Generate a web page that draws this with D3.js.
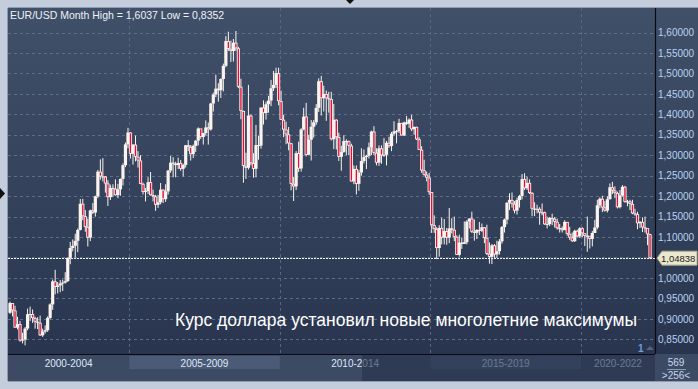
<!DOCTYPE html>
<html>
<head>
<meta charset="utf-8">
<script src="https://cdn.jsdelivr.net/npm/d3@7"></script>
<style>
  html, body { margin: 0; padding: 0; background: #c3cddb; }
  svg { display: block; font-family: "Liberation Sans", Arial, sans-serif; }
</style>
</head>
<body>
<svg id="chart" width="698" height="389"></svg>
<script>
// EUR/USD monthly, Jan 2001 .. Apr 2022 (256 bars). open = previous close
var firstOpen = 0.9150;
var closes = [
  0.9386,0.9206,0.8787,0.8872,0.8471,0.8493,0.8763,0.9114,0.9118,0.9018,0.8931,0.8904,
  0.8597,0.8688,0.8722,0.9024,0.9353,0.9915,0.9780,0.9815,0.9865,0.9887,0.9922,1.0492,
  1.0733,1.0786,1.0907,1.1174,1.1812,1.1509,1.1245,1.0986,1.1652,1.1598,1.1996,1.2597,
  1.2482,1.2477,1.2309,1.1975,1.2201,1.2181,1.2024,1.2165,1.2420,1.2757,1.3266,1.3554,
  1.3035,1.3259,1.2962,1.2870,1.2300,1.2103,1.2124,1.2340,1.2025,1.1995,1.1790,1.1849,
  1.2157,1.1926,1.2116,1.2626,1.2818,1.2792,1.2759,1.2810,1.2669,1.2764,1.3244,1.3199,
  1.3027,1.3228,1.3356,1.3654,1.3445,1.3541,1.3680,1.3631,1.4264,1.4484,1.4627,1.4589,
  1.4863,1.5186,1.5790,1.5601,1.5547,1.5750,1.5613,1.4674,1.4082,1.2741,1.2693,1.3969,
  1.2806,1.2668,1.3248,1.3235,1.4164,1.4031,1.4247,1.4336,1.4637,1.4720,1.5004,1.4321,
  1.3867,1.3627,1.3510,1.3291,1.2301,1.2237,1.3049,1.2676,1.3630,1.3944,1.3008,1.3379,
  1.3695,1.3805,1.4158,1.4808,1.4394,1.4497,1.4393,1.4375,1.3391,1.3867,1.3444,1.2961,
  1.3081,1.3346,1.3339,1.3234,1.2360,1.2665,1.2301,1.2577,1.2859,1.2956,1.2988,1.3193,
  1.3578,1.3060,1.2818,1.3168,1.2997,1.3010,1.3303,1.3223,1.3526,1.3584,1.3589,1.3789,
  1.3484,1.3802,1.3768,1.3870,1.3635,1.3692,1.3389,1.3132,1.2629,1.2525,1.2453,1.2098,
  1.1291,1.1196,1.0731,1.1222,1.0986,1.1146,1.0985,1.1211,1.1177,1.1005,1.0565,1.0862,
  1.0831,1.0873,1.1378,1.1451,1.1130,1.1103,1.1174,1.1157,1.1238,1.0979,1.0590,1.0517,
  1.0797,1.0575,1.0652,1.0895,1.1243,1.1426,1.1838,1.1907,1.1813,1.1646,1.1904,1.2005,
  1.2415,1.2193,1.2324,1.2078,1.1693,1.1684,1.1690,1.1601,1.1604,1.1311,1.1317,1.1467,
  1.1446,1.1372,1.1217,1.1215,1.1167,1.1370,1.1077,1.0988,1.0898,1.1152,1.1017,1.1213,
  1.1093,1.1026,1.1031,1.0955,1.1100,1.1233,1.1778,1.1935,1.1723,1.1647,1.1924,1.2216,
  1.2137,1.2074,1.1729,1.2017,1.2228,1.1858,1.1870,1.1809,1.1578,1.1558,1.1337,1.1370,
  1.1235,1.1218,1.1067,1.04838
];
var highs = [
  0.9420,0.9370,0.9320,0.9050,0.8950,0.8660,0.8800,0.9250,0.9300,0.9230,0.9050,0.9040,
  0.9080,0.8760,0.8840,0.9060,0.9380,0.9960,1.0200,0.9900,0.9950,0.9960,1.0140,1.0500,
  1.0880,1.0940,1.1080,1.1210,1.1930,1.1935,1.1660,1.1450,1.1670,1.1830,1.2010,1.2640,
  1.2900,1.2930,1.2490,1.2390,1.2280,1.2290,1.2410,1.2300,1.2430,1.2800,1.3310,1.3670,
  1.3560,1.3270,1.3480,1.3100,1.3000,1.2330,1.2200,1.2460,1.2590,1.2160,1.2030,1.2030,
  1.2320,1.2170,1.2290,1.2640,1.2980,1.2950,1.2840,1.2940,1.2880,1.2790,1.3250,1.3370,
  1.3250,1.3260,1.3370,1.3680,1.3610,1.3550,1.3850,1.3800,1.4280,1.4530,1.4970,1.4760,
  1.4880,1.5240,1.5910,1.6020,1.5800,1.5840,1.6037,1.5650,1.4870,1.4090,1.3060,1.4720,
  1.4000,1.3050,1.3740,1.3480,1.4170,1.4340,1.4310,1.4450,1.4840,1.5060,1.5140,1.5140,
  1.4580,1.3990,1.3820,1.3690,1.3300,1.2470,1.3100,1.3330,1.3660,1.4160,1.4280,1.3500,
  1.3860,1.3860,1.4250,1.4880,1.4940,1.4700,1.4580,1.4550,1.4550,1.4250,1.3880,1.3550,
  1.3230,1.3490,1.3390,1.3360,1.3280,1.2750,1.2750,1.2640,1.3170,1.3140,1.3010,1.3310,
  1.3600,1.3710,1.3170,1.3240,1.3240,1.3420,1.3350,1.3450,1.3570,1.3830,1.3620,1.3890,
  1.3770,1.3820,1.3960,1.3900,1.3990,1.3700,1.3700,1.3440,1.3220,1.2890,1.2600,1.2570,
  1.2100,1.1530,1.1240,1.1290,1.1470,1.1440,1.1220,1.1710,1.1460,1.1500,1.1040,1.1060,
  1.0990,1.1380,1.1410,1.1460,1.1620,1.1430,1.1190,1.1370,1.1330,1.1240,1.1300,1.0870,
  1.0830,1.0830,1.0910,1.0950,1.1270,1.1450,1.1850,1.2070,1.2090,1.1880,1.1960,1.2030,
  1.2540,1.2560,1.2480,1.2410,1.2100,1.1850,1.1790,1.1730,1.1820,1.1620,1.1500,1.1490,
  1.1570,1.1490,1.1450,1.1320,1.1260,1.1410,1.1290,1.1250,1.1110,1.1180,1.1180,1.1240,
  1.1240,1.1050,1.1500,1.1020,1.1150,1.1420,1.1910,1.1970,1.2010,1.1880,1.2000,1.2310,
  1.2350,1.2240,1.2110,1.2150,1.2270,1.2250,1.1910,1.1910,1.1910,1.1690,1.1620,1.1390,
  1.1480,1.1500,1.1180,1.1080
];
var lows = [
  0.9120,0.9060,0.8775,0.8740,0.8440,0.8400,0.8352,0.8720,0.8950,0.8900,0.8760,0.8750,
  0.8580,0.8560,0.8640,0.8680,0.8990,0.9220,0.9600,0.9620,0.9650,0.9680,0.9860,0.9900,
  1.0335,1.0650,1.0500,1.0630,1.1160,1.1410,1.1130,1.0770,1.0900,1.1560,1.1500,1.1950,
  1.2400,1.2360,1.2085,1.1760,1.1905,1.1980,1.2010,1.1950,1.2010,1.2260,1.2710,1.3170,
  1.2920,1.2770,1.2850,1.2700,1.2290,1.2040,1.1870,1.2050,1.2010,1.1870,1.1640,1.1710,
  1.1800,1.1830,1.1860,1.2040,1.2570,1.2460,1.2460,1.2660,1.2620,1.2480,1.2700,1.3100,
  1.2870,1.2930,1.3080,1.3240,1.3400,1.3260,1.3480,1.3260,1.3600,1.4070,1.4420,1.4310,
  1.4400,1.4560,1.5150,1.5550,1.5280,1.5290,1.5550,1.4640,1.3880,1.2330,1.2420,1.2650,
  1.2750,1.2450,1.2460,1.2890,1.3160,1.3750,1.3870,1.4040,1.4200,1.4570,1.4640,1.4220,
  1.3860,1.3440,1.3270,1.3120,1.2140,1.1880,1.2150,1.2590,1.2600,1.3610,1.2970,1.3070,
  1.2870,1.3430,1.3740,1.4060,1.3970,1.4070,1.3840,1.4040,1.3360,1.3150,1.3140,1.2860,
  1.2620,1.3060,1.3000,1.3000,1.2360,1.2290,1.2040,1.2130,1.2500,1.2800,1.2660,1.2920,
  1.3000,1.3000,1.2750,1.2740,1.2790,1.2960,1.2750,1.3180,1.3100,1.3480,1.3290,1.3540,
  1.3480,1.3470,1.3740,1.3670,1.3590,1.3500,1.3370,1.3150,1.2570,1.2500,1.2360,1.2030,
  1.1100,1.1100,1.0460,1.0520,1.0820,1.0820,1.0810,1.0850,1.1090,1.0900,1.0560,1.0520,
  1.0710,1.0850,1.0820,1.1210,1.1100,1.0910,1.0950,1.1050,1.1120,1.0850,1.0560,1.0350,
  1.0340,1.0490,1.0490,1.0570,1.0840,1.1110,1.1310,1.1660,1.1720,1.1580,1.1550,1.1720,
  1.1920,1.2150,1.2150,1.2050,1.1510,1.1510,1.1580,1.1300,1.1530,1.1300,1.1210,1.1270,
  1.1290,1.1230,1.1180,1.1110,1.1110,1.1180,1.1030,1.0930,1.0880,1.0880,1.0990,1.0980,
  1.0990,1.0780,1.0640,1.0720,1.0770,1.1100,1.1190,1.1700,1.1610,1.1620,1.1600,1.1920,
  1.2050,1.1950,1.1700,1.1700,1.1990,1.1840,1.1750,1.1660,1.1560,1.1520,1.1190,1.1220,
  1.1120,1.1110,1.0800,1.0470
];
var periods = ["2000-2004", "2005-2009", "2010-2014", "2015-2019", "2020-2022"];
var periodStart = [null, 48, 108, 168, 228]; // bar index where each period begins
var gridTicks = [0.85,0.90,0.95,1.00,1.05,1.10,1.15,1.20,1.25,1.30,1.35,1.40,1.45,1.50,1.55,1.60];
var labelTicks = [0.85,0.90,0.95,1.00,1.10,1.15,1.20,1.25,1.30,1.35,1.40,1.45,1.50,1.55,1.60]; // 1,05 hidden under the price tag
var lastPrice = 1.04838;
var title = "EUR/USD Month High = 1,6037 Low = 0,8352";
var caption = "Курс доллара установил новые многолетние максимумы";

var W = 698, H = 389;
var plotL = 8, plotR = 655, plotT = 8, plotB = 354, axisB = 381;

var svg = d3.select("#chart");

var bars = closes.map(function(c, i) {
  return { i: i, o: i == 0 ? firstOpen : closes[i-1], c: c, h: highs[i], l: lows[i] };
});

var x = d3.scaleBand().domain(d3.range(bars.length)).range([8.75, 651.3]);
var y = d3.scaleLinear().domain([0.85, 1.60]).range([339.3, 32.5]);

var fmt = function(v) { return d3.format(".5f")(v).replace(".", ","); };

// background
var defs = svg.append("defs");
var grad = defs.append("linearGradient").attr("id", "bg").attr("x1", 0).attr("y1", 0).attr("x2", 0).attr("y2", 1);
grad.append("stop").attr("offset", "0%").attr("stop-color", "#415069");
grad.append("stop").attr("offset", "100%").attr("stop-color", "#29354f");

svg.append("rect").attr("width", W).attr("height", H).attr("fill", "#c3cddb");
svg.append("rect").attr("x", plotL).attr("y", plotT).attr("width", W - plotL).attr("height", plotB - plotT)
  .attr("fill", "url(#bg)");

// frame arrows
svg.append("path").attr("d", "M0,188 L5,193.5 L0,199 Z").attr("fill", "#111");
svg.append("path").attr("d", "M346,0 L354,0 L350,4 Z").attr("fill", "#111");
svg.append("path").attr("d", "M345,389 L355,389 L350,384 Z").attr("fill", "#111");

// grid
var grid = svg.append("g");
grid.selectAll("line.h").data(gridTicks).enter().append("line")
  .attr("x1", plotL).attr("x2", plotR)
  .attr("y1", function(d){ return Math.round(y(d)) + 0.5; })
  .attr("y2", function(d){ return Math.round(y(d)) + 0.5; })
  .attr("stroke", "#5d6d8a").attr("stroke-dasharray", "3,3");
grid.selectAll("line.v").data(periodStart.slice(1)).enter().append("line")
  .attr("x1", function(d){ return Math.round(x(d)) + 0.5; })
  .attr("x2", function(d){ return Math.round(x(d)) + 0.5; })
  .attr("y1", plotT).attr("y2", plotB)
  .attr("stroke", "#56668a").attr("stroke-dasharray", "3,3");

// title
svg.append("text").attr("x", 10).attr("y", 19).attr("fill", "#eef2f8")
  .attr("font-size", "10.5px").text(title);

// candles
var cg = svg.append("g");
var candle = cg.selectAll("g").data(bars).enter().append("g");
candle.append("line")
  .attr("x1", function(d){ return x(d.i) + x.bandwidth()/2; })
  .attr("x2", function(d){ return x(d.i) + x.bandwidth()/2; })
  .attr("y1", function(d){ return y(d.h); })
  .attr("y2", function(d){ return y(d.l); })
  .attr("stroke", "#fbf4ee").attr("stroke-width", 1);
candle.append("rect")
  .attr("x", function(d){ return x(d.i) + x.bandwidth()/2 - 1.6; })
  .attr("width", 3.2)
  .attr("y", function(d){ return y(Math.max(d.o, d.c)); })
  .attr("height", function(d){ return Math.max(1, Math.abs(y(d.o) - y(d.c))); })
  .attr("fill", "#fbf4ee");
candle.filter(function(d){ return d.c < d.o; }).append("rect")
  .attr("x", function(d){ return x(d.i) + x.bandwidth()/2 - 0.7; })
  .attr("width", 1.4)
  .attr("y", function(d){ return y(d.o) + 0.8; })
  .attr("height", function(d){ return Math.max(0, y(d.c) - y(d.o) - 1.6); })
  .attr("fill", "#e0103c");

// last price line
svg.append("line").attr("x1", plotL).attr("x2", plotR)
  .attr("y1", Math.round(y(lastPrice)) + 0.5).attr("y2", Math.round(y(lastPrice)) + 0.5)
  .attr("stroke", "#f4f4f4").attr("stroke-dasharray", "2,1");

// caption
svg.append("text").attr("x", 175).attr("y", 326).attr("fill", "#ffffff")
  .attr("font-size", "17.5px").text(caption);

// "1" marker
svg.append("text").attr("x", 638).attr("y", 352).attr("fill", "#6e9ee0")
  .attr("font-size", "10px").attr("font-weight", "bold").text("1");
svg.append("path").attr("d", "M646,350 L650,346 L654,350 Z").attr("fill", "#566482");

// right axis
svg.append("line").attr("x1", plotR + 0.5).attr("x2", plotR + 0.5).attr("y1", plotT).attr("y2", axisB)
  .attr("stroke", "#0a0a10").attr("stroke-width", 1.2);
var yAxis = d3.axisRight(y).tickValues(labelTicks).tickFormat(fmt).tickSize(0).tickPadding(0);
var ya = svg.append("g").attr("transform", "translate(" + (plotR + 3) + ",0)").call(yAxis);
ya.select(".domain").remove();
ya.selectAll("text").attr("fill", "#b9d2f2").attr("font-size", "10px")
  .attr("font-family", "'Liberation Sans', Arial, sans-serif");

// price tag
var ty = y(lastPrice);
svg.append("path")
  .attr("d", "M657," + ty + " L662," + (ty-7) + " L697," + (ty-7) + " L697," + (ty+7) + " L662," + (ty+7) + " Z")
  .attr("fill", "#ebe7cc").attr("stroke", "#a8a68c");
svg.append("text").attr("x", 661).attr("y", ty + 3.5).attr("fill", "#1c1c1c")
  .attr("font-size", "9.5px").text(fmt(lastPrice));

// bottom period axis
svg.append("rect").attr("x", plotL).attr("y", plotB).attr("width", W - plotL).attr("height", axisB - plotB)
  .attr("fill", "#3d4a64");
svg.append("line").attr("x1", plotL).attr("x2", plotR).attr("y1", plotB + 0.5).attr("y2", plotB + 0.5)
  .attr("stroke", "#0a0a10").attr("stroke-width", 1.2);

var edges = periodStart.map(function(d){ return d == null ? plotL : x(d); }).concat([plotR]);
var pg = svg.append("g");
pg.selectAll("rect").data(periods).enter().filter(function(d, i){ return i % 2 == 1; }).append("rect")
  .attr("x", function(d){ var i = periods.indexOf(d); return edges[i]; })
  .attr("width", function(d){ var i = periods.indexOf(d); return edges[i+1] - edges[i]; })
  .attr("y", 356).attr("height", 13).attr("fill", "#4b5a76");
pg.selectAll("text").data(periods).enter().append("text")
  .attr("x", function(d, i){ return (edges[i] + edges[i+1]) / 2; })
  .attr("y", 367).attr("text-anchor", "middle")
  .attr("fill", "#dfe8f6").attr("font-size", "10px").text(function(d){ return d; });

// scroller shade over later periods
svg.append("rect").attr("x", 362).attr("y", plotB + 1).attr("width", plotR - 362).attr("height", axisB - plotB - 1)
  .attr("fill", "#26324c").attr("opacity", 0.62);

// bar count box
svg.append("text").attr("x", 676).attr("y", 366).attr("text-anchor", "middle").attr("fill", "#c7d6ec")
  .attr("font-size", "10px").text("569");
svg.append("line").attr("x1", 667).attr("x2", 686).attr("y1", 369.5).attr("y2", 369.5).attr("stroke", "#8c9ab2");
svg.append("text").attr("x", 676).attr("y", 379).attr("text-anchor", "middle").attr("fill", "#c7d6ec")
  .attr("font-size", "10px").text(">256<");

// outer frame bottom
svg.append("rect").attr("x", 0).attr("y", axisB).attr("width", W).attr("height", H - axisB).attr("fill", "#c3cddb");
svg.append("line").attr("x1", plotL).attr("x2", W).attr("y1", axisB + 0.5).attr("y2", axisB + 0.5).attr("stroke", "#8e9ab0");
svg.append("line").attr("x1", plotL - 0.5).attr("x2", plotL - 0.5).attr("y1", plotT).attr("y2", axisB).attr("stroke", "#8e9ab0");
svg.append("line").attr("x1", plotL).attr("x2", W).attr("y1", plotT - 0.5).attr("y2", plotT - 0.5).attr("stroke", "#8e9ab0");
</script>
</body>
</html>
